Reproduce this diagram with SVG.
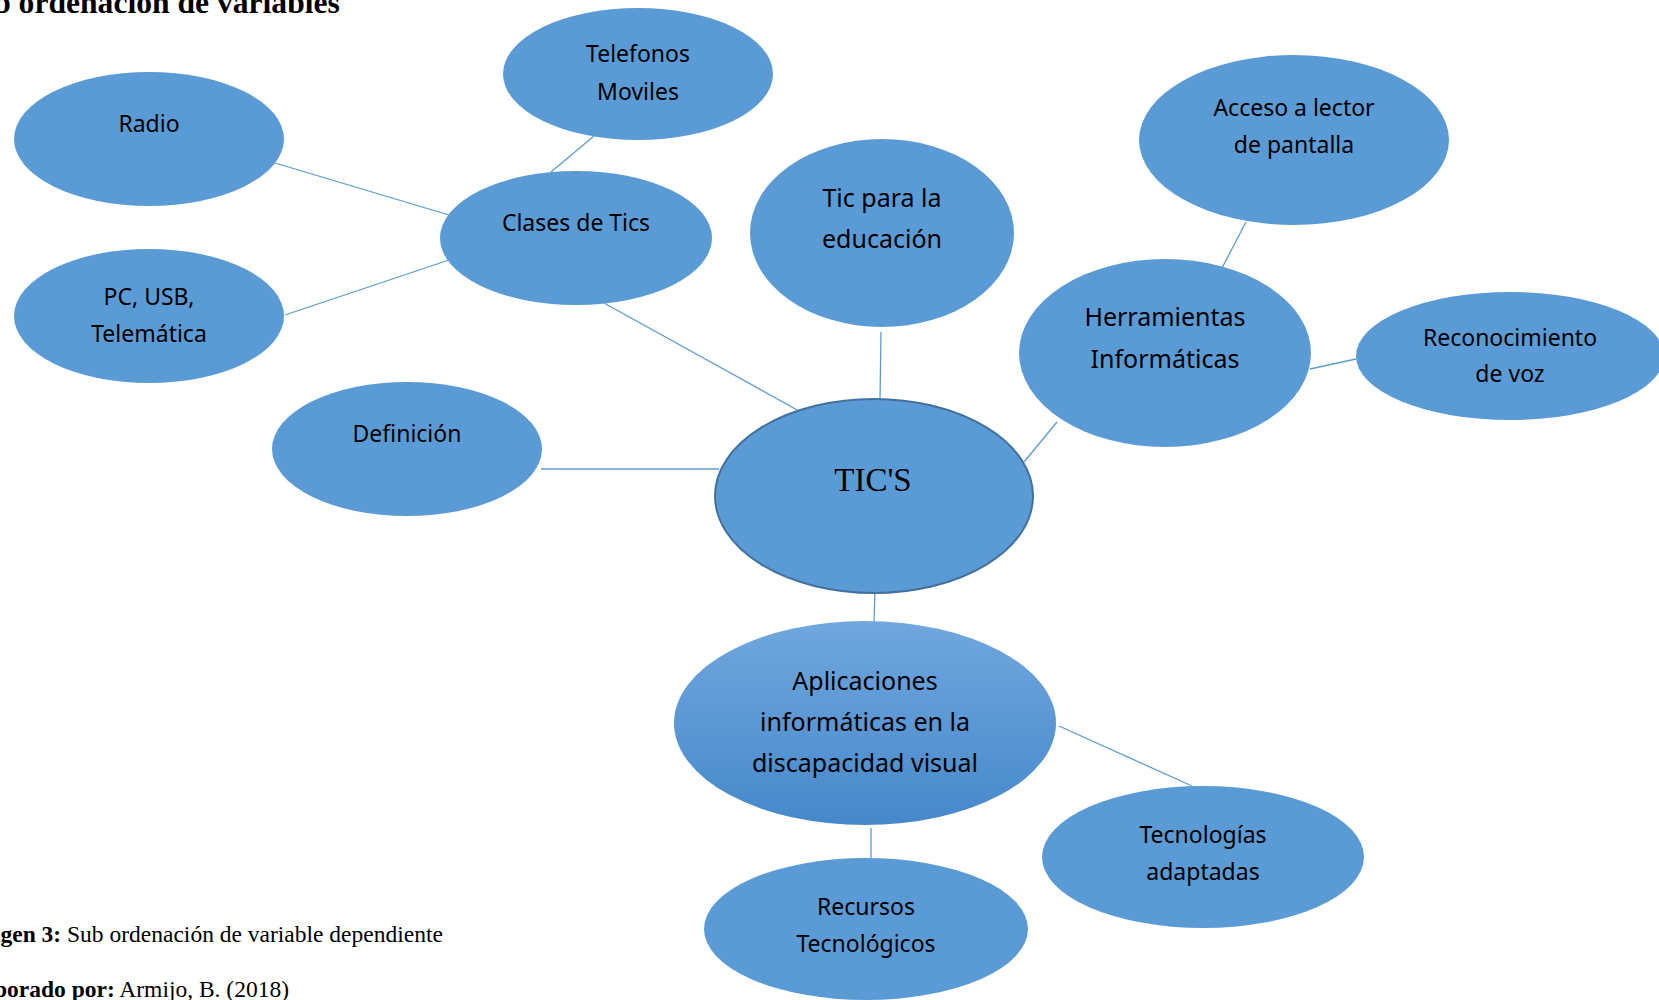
<svg xmlns="http://www.w3.org/2000/svg" width="1659" height="1000" viewBox="0 0 1659 1000">
<defs>
<style>
.n{fill:#5b9bd5;}
.t{font-family:"Noto Sans","Open Sans",sans-serif;font-size:23px;fill:#000;text-anchor:middle;}
.tl{font-size:25px;}
.c line{stroke:#5b9bd5;stroke-width:1.3;}
.cap{font-family:"Liberation Serif","Times New Roman",serif;font-size:23.5px;fill:#000;}
</style>
<linearGradient id="g" x1="0" y1="0" x2="0" y2="1">
<stop offset="0" stop-color="#70a7de"/>
<stop offset="1" stop-color="#4688ca"/>
</linearGradient>
</defs>
<rect width="1659" height="1000" fill="#fff"/>
<text x="-42" y="13" font-family="Liberation Serif,serif" font-weight="bold" font-size="31.6">Sub ordenación de variables</text>
<g class="c" id="connectors">
<line x1="594" y1="136" x2="551" y2="172"/>
<line x1="275" y1="163" x2="449" y2="215"/>
<line x1="285" y1="315" x2="449" y2="260"/>
<line x1="604" y1="303" x2="799" y2="411"/>
<line x1="881" y1="332" x2="880" y2="400"/>
<line x1="541" y1="469" x2="719" y2="469"/>
<line x1="1057" y1="422" x2="1024" y2="462"/>
<line x1="1246" y1="222" x2="1222" y2="268"/>
<line x1="1310" y1="369" x2="1356" y2="359"/>
<line x1="875" y1="591" x2="874" y2="622"/>
<line x1="1059" y1="726" x2="1192" y2="786"/>
<line x1="871" y1="828" x2="871" y2="858"/>
</g>
<g id="telefonos"><ellipse class="n" cx="638" cy="74" rx="135" ry="66"/><text class="t" x="638" y="62">Telefonos</text><text class="t" x="638" y="100">Moviles</text></g>
<g id="radio"><ellipse class="n" cx="149" cy="139" rx="135" ry="67"/><text class="t" x="149" y="132">Radio</text></g>
<g id="clases"><ellipse class="n" cx="576" cy="238" rx="136" ry="67"/><text class="t" x="576" y="231">Clases de Tics</text></g>
<g id="pc"><ellipse class="n" cx="149" cy="316" rx="135" ry="67"/><text class="t" x="149" y="305">PC, USB,</text><text class="t" x="149" y="342">Telemática</text></g>
<g id="definicion"><ellipse class="n" cx="407" cy="449" rx="135" ry="67"/><text class="t" x="407" y="442">Definición</text></g>
<g id="ticedu"><ellipse class="n" cx="882" cy="233" rx="132" ry="94"/><text class="t tl" x="882" y="207">Tic para la</text><text class="t tl" x="882" y="248">educación</text></g>
<g id="acceso"><ellipse class="n" cx="1294" cy="140" rx="155" ry="85"/><text class="t" x="1294" y="116">Acceso a lector</text><text class="t" x="1294" y="153">de pantalla</text></g>
<g id="herramientas"><ellipse class="n" cx="1165" cy="353" rx="146" ry="94"/><text class="t tl" x="1165" y="326">Herramientas</text><text class="t tl" x="1165" y="368">Informáticas</text></g>
<g id="reconocimiento"><ellipse class="n" cx="1510" cy="356" rx="154" ry="64"/><text class="t" x="1510" y="346">Reconocimiento</text><text class="t" x="1510" y="382">de voz</text></g>
<g id="tics"><ellipse cx="874" cy="496" rx="159" ry="97" fill="#5b9bd5" stroke="#41719c" stroke-width="2"/><text x="873" y="491" font-family="Liberation Serif,serif" font-size="33" text-anchor="middle">TIC'S</text></g>
<g id="aplicaciones"><ellipse cx="865" cy="723" rx="191" ry="102" fill="url(#g)"/><text class="t" style="font-size:25px" x="865" y="690">Aplicaciones</text><text class="t" style="font-size:25px" x="865" y="731">informáticas en la</text><text class="t" style="font-size:25px" x="865" y="772">discapacidad visual</text></g>
<g id="tecnologias"><ellipse class="n" cx="1203" cy="857" rx="161" ry="71"/><text class="t" x="1203" y="843">Tecnologías</text><text class="t" x="1203" y="880">adaptadas</text></g>
<g id="recursos"><ellipse class="n" cx="866" cy="929" rx="162" ry="71"/><text class="t" x="866" y="915">Recursos</text><text class="t" x="866" y="952">Tecnológicos</text></g>
<text class="cap" x="-40" y="942"><tspan font-weight="bold">Imagen 3:</tspan> Sub ordenación de variable dependiente</text>
<text class="cap" x="-40" y="997"><tspan font-weight="bold">Elaborado por:</tspan> Armijo, B. (2018)</text>
</svg>
